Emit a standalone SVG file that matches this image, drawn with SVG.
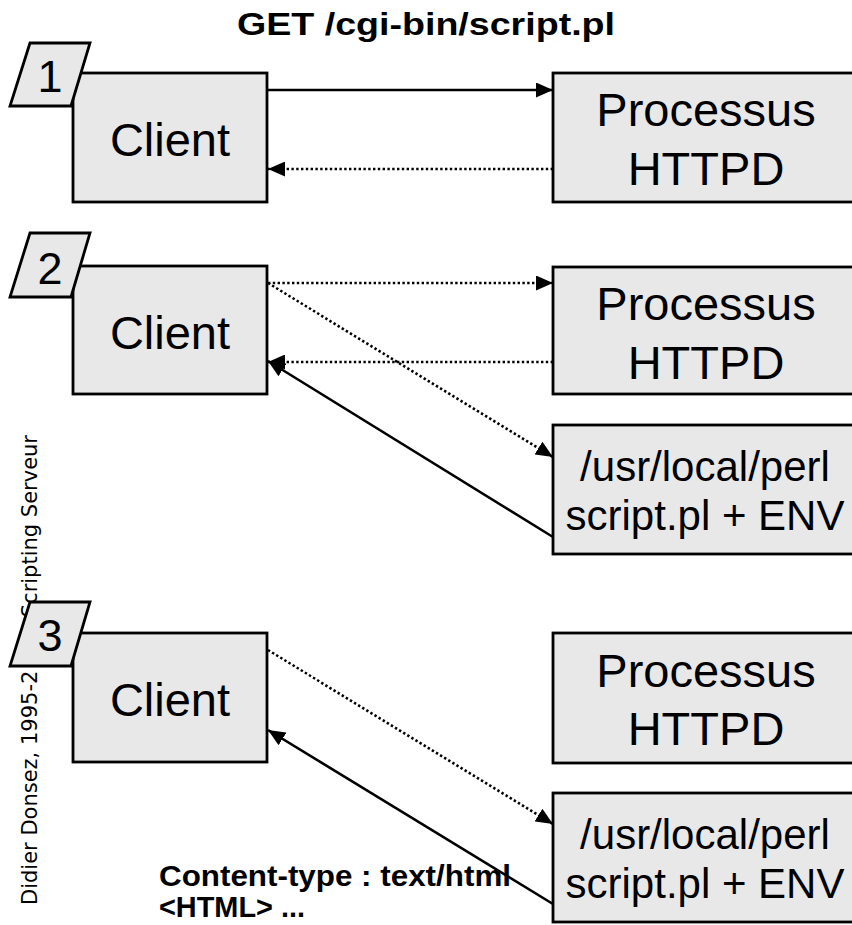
<svg xmlns="http://www.w3.org/2000/svg" width="852" height="925" viewBox="0 0 852 925">
<style>
.box{fill:#e8e8e8;stroke:#000;stroke-width:2.8}
.big{font-family:"Liberation Sans",Arial,sans-serif;font-size:47px;text-anchor:middle;fill:#000}
.mid{font-family:"Liberation Sans",Arial,sans-serif;font-size:42px;text-anchor:middle;fill:#000}
.num{font-family:"Liberation Sans",Arial,sans-serif;font-size:45px;text-anchor:middle;fill:#000}
.bold{font-family:"Liberation Sans",Arial,sans-serif;font-weight:bold;fill:#000}
.side{font-family:"DejaVu Sans",Verdana,sans-serif;font-size:21px;fill:#000}
.solid{fill:none;stroke:#000;stroke-width:2.6;marker-end:url(#ah)}
.dot{fill:none;stroke:#000;stroke-width:2.6;stroke-dasharray:2.4 2.4;marker-end:url(#ah)}
</style>
<defs>
<marker id="ah" markerUnits="userSpaceOnUse" markerWidth="17" markerHeight="15" refX="17" refY="7.5" orient="auto">
<path d="M0,0 L17,7.5 L0,15 Z" fill="#000"/>
</marker>
</defs>
<rect width="852" height="925" fill="#fff"/>
<g id="footer">
<text class="side" transform="translate(37,905) rotate(-90)">Didier Donsez, 1995-2</text>
<text class="side" transform="translate(37,435) rotate(-90)" text-anchor="end">Scripting Serveur</text>
</g>
<g id="title"><text class="bold" x="237" y="35" font-size="31" textLength="378" lengthAdjust="spacingAndGlyphs">GET /cgi-bin/script.pl</text></g>
<g id="response">
<text class="bold" x="159" y="886" font-size="29" textLength="352" lengthAdjust="spacingAndGlyphs">Content-type : text/html</text>
<text class="bold" x="159" y="917" font-size="29" textLength="146" lengthAdjust="spacingAndGlyphs">&lt;HTML&gt; ...</text>
</g>

<g id="client1"><rect class="box" x="73" y="73" width="194" height="129"/><text class="big" x="170" y="156">Client</text></g>
<g id="httpd1"><rect class="box" x="553" y="73" width="310" height="129"/><text class="big" x="706" y="126">Processus</text><text class="big" x="706" y="185">HTTPD</text></g>
<g id="step1"><polygon class="box" points="30,43 90,43 71,106 10,106"/><text class="num" x="50" y="92">1</text></g>

<g id="client2"><rect class="box" x="73" y="266" width="194" height="128"/><text class="big" x="170" y="349">Client</text></g>
<g id="httpd2"><rect class="box" x="553" y="267" width="310" height="127"/><text class="big" x="706" y="320">Processus</text><text class="big" x="706" y="379">HTTPD</text></g>
<g id="perl2"><rect class="box" x="553" y="425" width="310" height="129"/><text class="mid" x="705" y="481">/usr/local/perl</text><text class="mid" x="705" y="530">script.pl + ENV</text></g>
<g id="step2"><polygon class="box" points="30,233 90,233 71,297 10,297"/><text class="num" x="50" y="284">2</text></g>

<g id="client3"><rect class="box" x="73" y="633" width="194" height="129"/><text class="big" x="170" y="716">Client</text></g>
<g id="httpd3"><rect class="box" x="553" y="633" width="310" height="130"/><text class="big" x="706" y="687">Processus</text><text class="big" x="706" y="745">HTTPD</text></g>
<g id="perl3"><rect class="box" x="553" y="793" width="310" height="129"/><text class="mid" x="705" y="849">/usr/local/perl</text><text class="mid" x="705" y="898">script.pl + ENV</text></g>
<g id="step3"><polygon class="box" points="30,602 90,602 71,666 10,666"/><text class="num" x="50" y="651">3</text></g>

<g id="connectors">
<line class="solid" x1="268" y1="90" x2="553" y2="90"/>
<line class="dot" x1="553" y1="169" x2="268" y2="169"/>
<line class="dot" x1="268" y1="283" x2="553" y2="283"/>
<line class="dot" x1="268" y1="283" x2="553" y2="457"/>
<line class="dot" x1="553" y1="362" x2="268" y2="362"/>
<line class="solid" x1="553" y1="537" x2="268" y2="361"/>
<line class="dot" x1="268" y1="650" x2="553" y2="824"/>
<line class="solid" x1="553" y1="904" x2="268" y2="730"/>
</g>
</svg>
